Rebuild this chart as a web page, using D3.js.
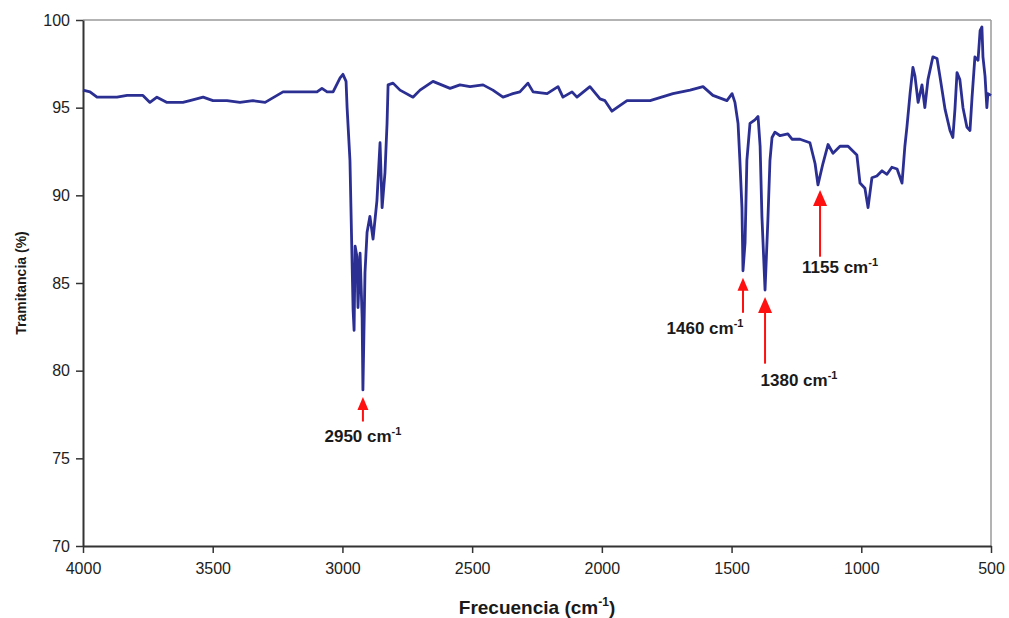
<!DOCTYPE html>
<html>
<head>
<meta charset="utf-8">
<script src="https://cdn.jsdelivr.net/npm/d3@7"></script>
<style>
  body { margin: 0; background: #fff; }
  text { font-family: Arial, "Liberation Sans", sans-serif; }
</style>
</head>
<body>
<div id="chart"></div>
<script>
// IR spectrum
const wavenumbers = [4000, 3973, 3946, 3869, 3830, 3769, 3742, 3715, 3676, 3615, 3588, 3537, 3499, 3445, 3395, 3345, 3298, 3252, 3229, 3098, 3079, 3059, 3036, 3009, 2998, 2986, 2982, 2971, 2959, 2955, 2951, 2944, 2940, 2932, 2924, 2921, 2913, 2905, 2894, 2882, 2867, 2855, 2847, 2836, 2828, 2824, 2805, 2778, 2728, 2701, 2651, 2585, 2547, 2508, 2458, 2420, 2381, 2343, 2316, 2285, 2265, 2211, 2169, 2150, 2115, 2096, 2046, 2007, 1988, 1961, 1942, 1903, 1814, 1726, 1660, 1610, 1572, 1518, 1498, 1487, 1475, 1468, 1460, 1456, 1448, 1441, 1429, 1410, 1398, 1390, 1383, 1371, 1360, 1352, 1344, 1333, 1313, 1283, 1267, 1236, 1198, 1178, 1167, 1148, 1128, 1109, 1082, 1051, 1017, 1005, 986, 974, 959, 940, 920, 901, 882, 862, 843, 832, 824, 812, 801, 793, 781, 766, 755, 743, 724, 708, 697, 677, 658, 647, 639, 631, 620, 608, 593, 581, 573, 562, 550, 542, 535, 531, 523, 516, 512, 500];
const transmittance = [96.0, 95.9, 95.6, 95.6, 95.7, 95.7, 95.3, 95.6, 95.3, 95.3, 95.4, 95.6, 95.4, 95.4, 95.3, 95.4, 95.3, 95.7, 95.9, 95.9, 96.1, 95.9, 95.9, 96.7, 96.9, 96.5, 95.0, 92.0, 83.5, 82.3, 87.1, 86.5, 83.6, 86.7, 83.0, 78.9, 85.6, 87.9, 88.8, 87.5, 89.7, 93.0, 89.3, 91.3, 94.1, 96.3, 96.4, 96.0, 95.6, 96.0, 96.5, 96.1, 96.3, 96.2, 96.3, 96.0, 95.6, 95.8, 95.9, 96.4, 95.9, 95.8, 96.2, 95.6, 95.9, 95.6, 96.2, 95.5, 95.4, 94.8, 95.0, 95.4, 95.4, 95.8, 96.0, 96.2, 95.7, 95.4, 95.8, 95.3, 94.1, 92.0, 89.3, 85.7, 87.3, 92.0, 94.1, 94.3, 94.5, 92.8, 88.8, 84.6, 88.6, 92.0, 93.3, 93.6, 93.4, 93.5, 93.2, 93.2, 93.0, 91.8, 90.6, 91.8, 92.9, 92.4, 92.8, 92.8, 92.3, 90.7, 90.4, 89.3, 91.0, 91.1, 91.4, 91.2, 91.6, 91.5, 90.7, 92.8, 93.9, 95.8, 97.3, 96.8, 95.3, 96.3, 95.0, 96.6, 97.9, 97.8, 96.8, 94.9, 93.7, 93.3, 94.9, 97.0, 96.6, 95.0, 93.9, 93.7, 95.6, 97.9, 97.7, 99.4, 99.6, 97.9, 96.8, 95.0, 95.8, 95.7];

const xTicks = [4000, 3500, 3000, 2500, 2000, 1500, 1000, 500];
const yTicks = [70, 75, 80, 85, 90, 95, 100];

// peak labels: arrow at wavenumber, from tail to tip (in %T)
const peakLabels = ["2950", "1460", "1380", "1155"];
const peakX = [2921, 1456, 1371, 1159];
const peakTip = [78.5, 85.3, 84.2, 90.3];
const peakTail = [77.1, 83.3, 80.4, 86.5];

const W = 1009, H = 618;
const margin = {top: 20, right: 18, bottom: 72, left: 83};
const width = W - margin.left - margin.right;
const height = H - margin.top - margin.bottom;

const svg = d3.select("#chart").append("svg")
    .attr("width", W)
    .attr("height", H)
    .style("background", "#fff");

const g = svg.append("g")
    .attr("transform", "translate(" + margin.left + "," + margin.top + ")");

let x = d3.scaleLinear().domain([4000, 500]).range([0, width]);
let y = d3.scaleLinear().domain([70, 100]).range([height, 0]);

// frame top + right
g.append("line").attr("x1", 0).attr("x2", width).attr("y1", 0).attr("y2", 0)
    .attr("stroke", "#9a9a9a").attr("stroke-width", 1.5);
g.append("line").attr("x1", width).attr("x2", width).attr("y1", 0).attr("y2", height)
    .attr("stroke", "#9a9a9a").attr("stroke-width", 1.5);

// axes
const xAxis = g.append("g")
    .attr("transform", "translate(0," + height + ")")
    .call(d3.axisBottom(x).tickValues(xTicks).tickFormat(d3.format("d"))
        .tickSize(7).tickSizeOuter(0).tickPadding(10));
const yAxis = g.append("g")
    .call(d3.axisLeft(y).tickValues(yTicks).tickFormat(d3.format("d"))
        .tickSize(7).tickSizeOuter(0).tickPadding(6));

[xAxis, yAxis].forEach(a => {
    a.select(".domain").attr("stroke", "#333").attr("stroke-width", 2);
    a.selectAll(".tick line").attr("stroke", "#333").attr("stroke-width", 1.5);
    a.selectAll(".tick text").attr("fill", "#222").style("font-size", "16px")
        .style("font-family", "Arial, 'Liberation Sans', sans-serif");
});

// spectrum
const pts = wavenumbers.map((w, i) => ({w: w, t: transmittance[i]}));
g.append("path")
    .datum(pts)
    .attr("fill", "none")
    .attr("stroke", "#2b2f92")
    .attr("stroke-width", 2.8)
    .attr("stroke-linejoin", "round")
    .attr("d", d3.line().x(d => x(d.w)).y(d => y(d.t)));

// peak arrows
const labelDx = [0, -38, 34, 20];
const labelDy = [20, 21, 22, 16];
peakLabels.forEach((lab, i) => {
    const px = x(peakX[i]);
    const tip = y(peakTip[i]);
    const tail = y(peakTail[i]);
    const big = i === 2 || i === 3;
    const hw = big ? 7 : 5.5, hh = big ? 16 : 13;
    g.append("line")
        .attr("x1", px).attr("x2", px)
        .attr("y1", tail).attr("y2", tip + hh - 1)
        .attr("stroke", "#ff1010").attr("stroke-width", 2);
    g.append("path")
        .attr("d", "M" + px + "," + tip + "L" + (px - hw) + "," + (tip + hh) + "L" + (px + hw) + "," + (tip + hh) + "Z")
        .attr("fill", "#ff1010");
    const t = g.append("text")
        .attr("x", px + labelDx[i])
        .attr("y", tail + labelDy[i])
        .attr("text-anchor", "middle")
        .attr("fill", "#1a1a1a")
        .style("font-size", "17px")
        .style("font-weight", "bold");
    t.append("tspan").text(lab + " cm");
    t.append("tspan").attr("dy", -7).style("font-size", "11px").text("-1");
});

// axis titles
const xt = svg.append("text")
    .attr("x", margin.left + width / 2)
    .attr("y", 614)
    .attr("text-anchor", "middle")
    .attr("fill", "#1a1a1a")
    .style("font-size", "19px")
    .style("font-weight", "bold");
xt.append("tspan").text("Frecuencia (cm");
xt.append("tspan").attr("dy", -8).style("font-size", "12px").text("-1");
xt.append("tspan").attr("dy", 8).text(")");

svg.append("text")
    .attr("transform", "translate(26," + (margin.top + y(85)) + ") rotate(-90)")
    .attr("text-anchor", "middle")
    .attr("fill", "#1a1a1a")
    .style("font-size", "14px")
    .style("font-weight", "bold")
    .text("Tramitancia (%)");
</script>
</body>
</html>
